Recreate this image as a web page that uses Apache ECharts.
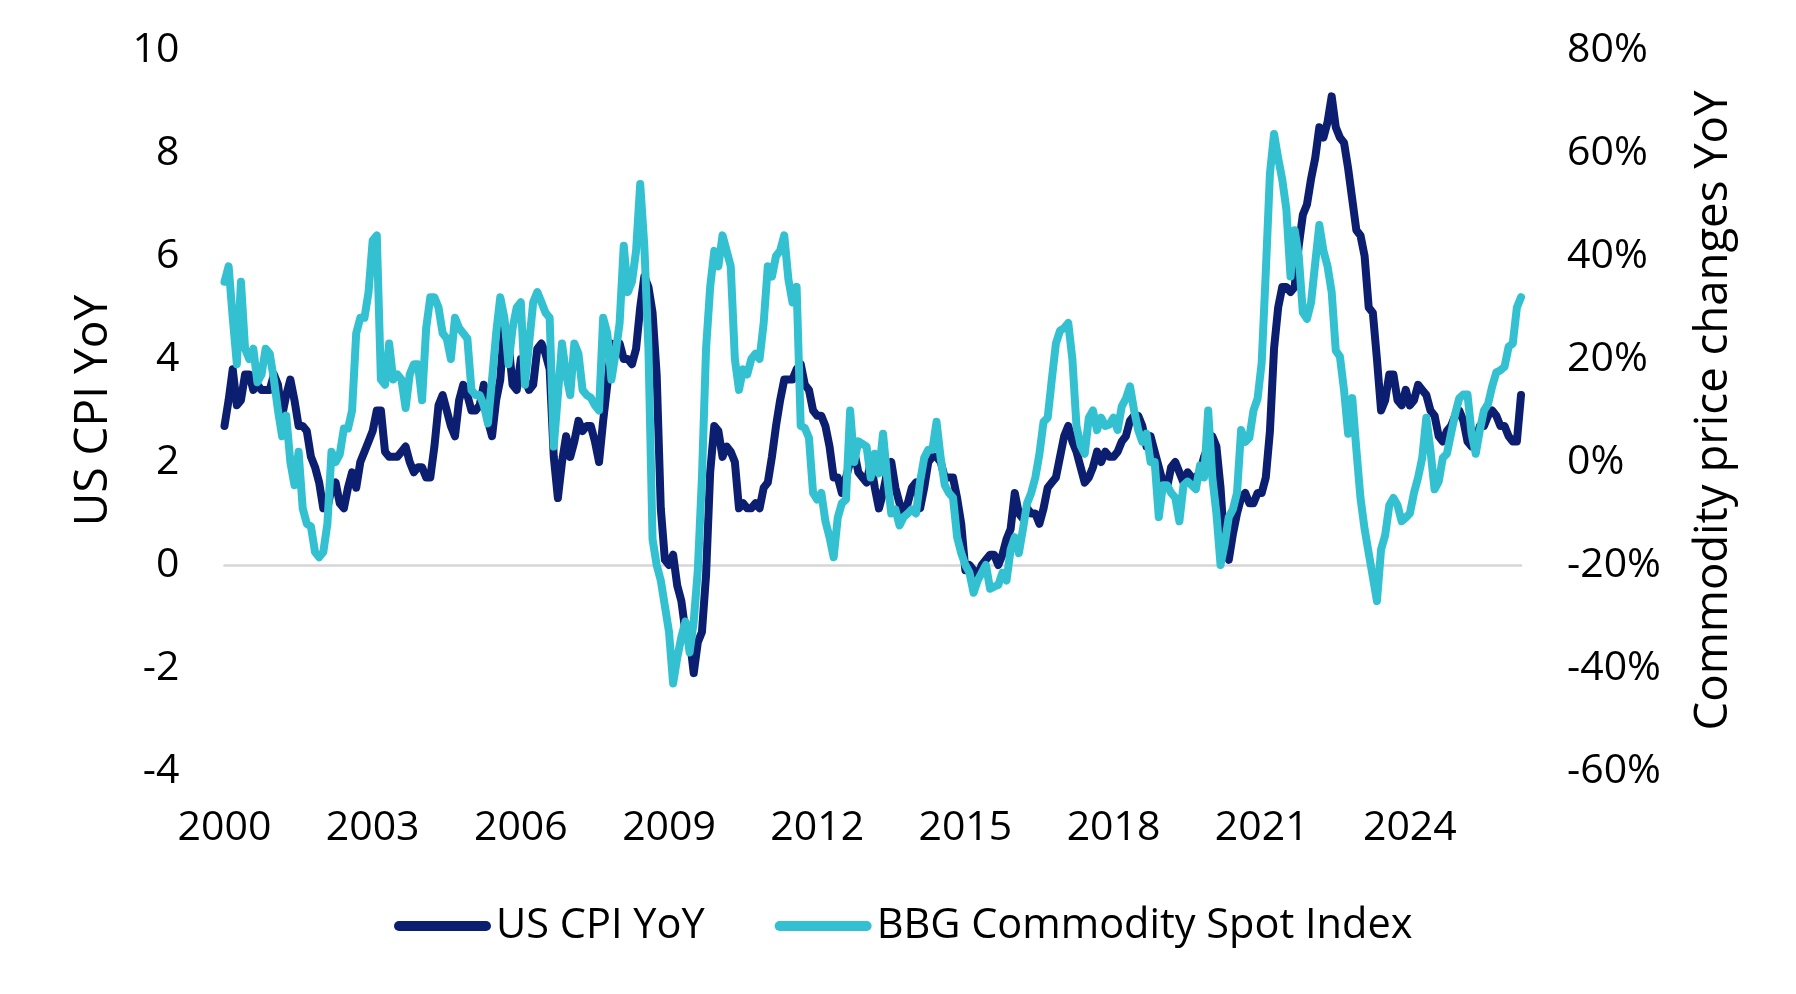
<!DOCTYPE html>
<html>
<head>
<meta charset="utf-8">
<script src="https://cdn.jsdelivr.net/npm/echarts@6/dist/echarts.min.js"></script>
<style>
  html, body { margin: 0; padding: 0; background: #ffffff; }
  #chart { width: 1796px; height: 994px; }
</style>
</head>
<body>
<div id="chart"></div>
<script>
// Monthly data, Jan 2000 – Apr 2026
const startYear = 2000;
const monthCount = 316;

// US CPI YoY (%), left axis
const cpiYoY = [
  2.7, 3.2, 3.8, 3.1, 3.2, 3.7, 3.7, 3.4, 3.5, 3.4, 3.4, 3.4,      // 2000
  3.7, 3.5, 2.9, 3.3, 3.6, 3.2, 2.7, 2.7, 2.6, 2.1, 1.9, 1.6,      // 2001
  1.1, 1.1, 1.5, 1.6, 1.2, 1.1, 1.5, 1.8, 1.5, 2.0, 2.2, 2.4,      // 2002
  2.6, 3.0, 3.0, 2.2, 2.1, 2.1, 2.1, 2.2, 2.3, 2.0, 1.8, 1.9,      // 2003
  1.9, 1.7, 1.7, 2.3, 3.1, 3.3, 3.0, 2.7, 2.5, 3.2, 3.5, 3.3,      // 2004
  3.0, 3.0, 3.1, 3.5, 2.8, 2.5, 3.2, 3.6, 4.7, 4.3, 3.5, 3.4,      // 2005
  4.0, 3.6, 3.4, 3.5, 4.2, 4.3, 4.1, 3.8, 2.1, 1.3, 2.0, 2.5,      // 2006
  2.1, 2.4, 2.8, 2.6, 2.7, 2.7, 2.4, 2.0, 2.8, 3.5, 4.3, 4.1,      // 2007
  4.3, 4.0, 4.0, 3.9, 4.2, 5.0, 5.6, 5.4, 4.9, 3.7, 1.1, 0.1,      // 2008
  0.0, 0.2, -0.4, -0.7, -1.3, -1.4, -2.1, -1.5, -1.3, -0.2, 1.8, 2.7, // 2009
  2.6, 2.1, 2.3, 2.2, 2.0, 1.1, 1.2, 1.1, 1.1, 1.2, 1.1, 1.5,      // 2010
  1.6, 2.1, 2.7, 3.2, 3.6, 3.6, 3.6, 3.8, 3.9, 3.5, 3.4, 3.0,      // 2011
  2.9, 2.9, 2.7, 2.3, 1.7, 1.7, 1.4, 1.7, 2.0, 2.2, 1.8, 1.7,      // 2012
  1.6, 2.0, 1.5, 1.1, 1.4, 1.8, 2.0, 1.5, 1.2, 1.0, 1.2, 1.5,      // 2013
  1.6, 1.1, 1.5, 2.0, 2.1, 2.1, 2.0, 1.7, 1.7, 1.7, 1.3, 0.8,      // 2014
  -0.1, 0.0, -0.1, -0.2, 0.0, 0.1, 0.2, 0.2, 0.0, 0.2, 0.5, 0.7,   // 2015
  1.4, 1.0, 0.9, 1.1, 1.0, 1.0, 0.8, 1.1, 1.5, 1.6, 1.7, 2.1,      // 2016
  2.5, 2.7, 2.4, 2.2, 1.9, 1.6, 1.7, 1.9, 2.2, 2.0, 2.2, 2.1,      // 2017
  2.1, 2.2, 2.4, 2.5, 2.8, 2.9, 2.9, 2.7, 2.3, 2.5, 2.2, 1.9,      // 2018
  1.6, 1.5, 1.9, 2.0, 1.8, 1.6, 1.8, 1.7, 1.7, 1.8, 2.1, 2.3,      // 2019
  2.5, 2.3, 1.5, 0.3, 0.1, 0.6, 1.0, 1.3, 1.4, 1.2, 1.2, 1.4,      // 2020
  1.4, 1.7, 2.6, 4.2, 5.0, 5.4, 5.4, 5.3, 5.4, 6.2, 6.8, 7.0,      // 2021
  7.5, 7.9, 8.5, 8.3, 8.6, 9.1, 8.5, 8.3, 8.2, 7.7, 7.1, 6.5,      // 2022
  6.4, 6.0, 5.0, 4.9, 4.0, 3.0, 3.2, 3.7, 3.7, 3.2, 3.1, 3.4,      // 2023
  3.1, 3.2, 3.5, 3.4, 3.3, 3.0, 2.9, 2.5, 2.4, 2.6, 2.7, 2.9,      // 2024
  3.0, 2.8, 2.4, 2.3, 2.4, 2.7, 2.7, 2.9, 3.0, 2.9, 2.7, 2.7,      // 2025
  2.5, 2.4, 2.4, 3.3                                               // 2026
];

// BBG Commodity Spot Index YoY (%), right axis
const commodityYoY = [
  35, 38, 28, 19, 35, 22, 20, 22, 15.5, 17, 22, 21,                 // 2000
  16, 10, 5, 9, 0, -4.5, 2, -9, -12, -12.5, -17.5, -18.5,           // 2001
  -17.5, -12, 2, 0, 1.5, 6.5, 6.5, 10, 25, 28, 28, 33,              // 2002
  43, 44, 16, 15, 23, 16, 17, 16, 10.5, 17, 19, 19,                 // 2003
  12, 26, 32, 32, 30, 25, 24, 20, 28, 26, 25, 24,                   // 2004
  14, 13, 13, 11, 7.5, 16, 25, 32, 28, 19, 26, 30,                  // 2005
  31, 15, 23, 31, 33, 31, 29, 28, 3, 13, 23, 17,                    // 2006
  13, 23, 21, 14, 13, 12.5, 11, 10, 28, 25, 16, 21,                 // 2007
  27, 42, 33, 35, 41, 54, 42, 22, -15, -20, -23, -28,               // 2008
  -33, -43, -38, -34, -31, -37, -31, -21, -3, 22, 34, 41,           // 2009
  38, 44, 41, 38, 20, 14, 18, 17, 20, 21, 20, 27,                   // 2010
  38, 36, 40, 41, 44, 35.5, 31, 34, 7, 6.6, 4.7, -6,                // 2011
  -7.3, -6, -11.5, -14.6, -18.5, -10.8, -8, -7.3, 10, 0, 4, 3.5,    // 2012
  3, -3, 1.6, -2.2, 5.5, -3, -10, -9.2, -12.3, -10.7, -10, -9.2,    // 2013
  -10, -3.8, 0.8, 2.4, 2.4, 7.8, 0.8, -4.5, -6, -6.9, -14.6, -17.7, // 2014
  -20, -21.5, -25.4, -23, -21.5, -20, -24.6, -24.2, -23.9, -21.5, -23, -17, // 2015
  -14.6, -17.7, -13, -8, -6, -3, 1.6, 7.8, 8.6, 16, 23, 25.5,       // 2016
  26, 27, 20, 7, 3.2, 1.6, 8.6, 10, 6.2, 8.6, 7, 7.3,               // 2017
  8.6, 6.2, 10.8, 12.3, 14.7, 10, 6.2, 3.9, 5.5, 0, 0, -10.7,       // 2018
  -4.5, -4.5, -6, -6.9, -11.5, -4.5, -3.8, -4.5, -5.3, -0.7, -3, 10, // 2019
  -3, -10, -20, -16, -10.7, -9.2, -6, 6.2, 3.9, 4.7, 10, 12.3,      // 2020
  19.3, 37, 56, 63.7, 59, 54.8, 49, 36, 45, 40, 29, 27.8,           // 2021
  31, 38.6, 46, 41, 38, 33, 21.6, 20.5, 14, 5.5, 12.4, 2.4,         // 2022
  -7, -13, -17.7, -22.3, -27, -17, -14.2, -8.4, -7, -8.4, -11.5, -10.8, // 2023
  -10, -6, -3, 0.8, 8.6, 2.3, -5.3, -3.8, 0.8, 1.6, 5.5, 9.3,       // 2024
  12.4, 13.1, 13.1, 5.5, 1.6, 6.2, 10, 11.3, 14.7, 17.4, 17.8, 18.5, // 2025
  22.4, 23, 30, 32                                                  // 2026
];

const seriesNames = ['US CPI YoY', 'BBG Commodity Spot Index'];
const leftAxisTitle = 'US CPI YoY';
const rightAxisTitle = 'Commodity price changes YoY';

const months = [];
for (let i = 0; i < monthCount; i++) {
  const y = startYear + Math.floor(i / 12);
  const m = (i % 12) + 1;
  months.push(y + '-' + (m < 10 ? '0' + m : m));
}

const FONT = '"Open Sans", "Noto Sans", sans-serif';
const NAVY = '#0b1e6f';
const CYAN = '#33c1d1';

const chart = echarts.init(document.getElementById('chart'), null, { renderer: 'canvas' });
chart.setOption({
  animation: false,
  backgroundColor: '#ffffff',
  textStyle: { fontFamily: FONT, color: '#000' },
  grid: { left: 224.5, right: 275, top: 50, bottom: 223, containLabel: false },
  legend: {
    data: seriesNames,
    left: 389,
    top: 900,
    itemWidth: 97,
    itemHeight: 11,
    itemGap: 70,
    icon: 'path://M5,0 H92 A5,5 0 0 1 92,10 H5 A5,5 0 0 1 5,0 Z',
    textStyle: { fontFamily: FONT, fontSize: 41.5, color: '#000' }
  },
  xAxis: [
    {
      type: 'category',
      data: months,
      boundaryGap: false,
      axisLine: { show: false, onZero: false },
      axisTick: { show: false },
      splitLine: { show: false },
      axisLabel: {
        interval: function (idx) { return idx % 36 === 0; },
        formatter: function (v) { return v.slice(0, 4); },
        fontFamily: FONT, fontSize: 41, color: '#000', margin: 37
      }
    },
    {
      type: 'category',
      data: months,
      boundaryGap: false,
      position: 'bottom',
      axisLine: { show: true, onZero: true, onZeroAxisIndex: 0, lineStyle: { color: '#d6d6d6', width: 2.5 } },
      axisTick: { show: false },
      axisLabel: { show: false },
      splitLine: { show: false }
    }
  ],
  yAxis: [
    {
      type: 'value',
      min: -4, max: 10, interval: 2,
      position: 'left',
      name: leftAxisTitle,
      nameLocation: 'middle',
      nameRotate: 90,
      nameGap: 108,
      nameTextStyle: { fontFamily: FONT, fontSize: 46, color: '#000' },
      axisLine: { show: false },
      axisTick: { show: false },
      splitLine: { show: false },
      axisLabel: { fontFamily: FONT, fontSize: 41, color: '#000', margin: 45 }
    },
    {
      type: 'value',
      min: -60, max: 80, interval: 20,
      position: 'right',
      name: rightAxisTitle,
      nameLocation: 'middle',
      nameRotate: 90,
      nameGap: 170,
      nameTextStyle: { fontFamily: FONT, fontSize: 45.5, color: '#000' },
      axisLine: { show: false },
      axisTick: { show: false },
      splitLine: { show: false },
      axisLabel: { fontFamily: FONT, fontSize: 41, color: '#000', margin: 46, formatter: '{value}%' }
    }
  ],
  series: [
    {
      name: seriesNames[0],
      type: 'line',
      xAxisIndex: 0,
      yAxisIndex: 0,
      data: cpiYoY,
      showSymbol: false,
      symbol: 'none',
      color: NAVY,
      lineStyle: { color: NAVY, width: 8, cap: 'round', join: 'round' }
    },
    {
      name: seriesNames[1],
      type: 'line',
      xAxisIndex: 0,
      yAxisIndex: 1,
      data: commodityYoY,
      showSymbol: false,
      symbol: 'none',
      color: CYAN,
      lineStyle: { color: CYAN, width: 8, cap: 'round', join: 'round' }
    }
  ]
});
</script>
</body>
</html>
